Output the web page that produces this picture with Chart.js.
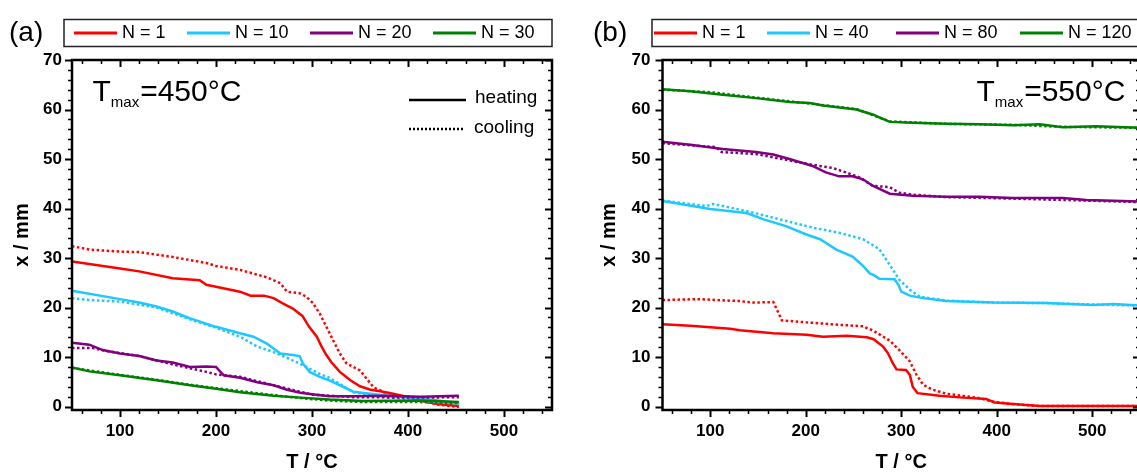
<!DOCTYPE html>
<html>
<head>
<meta charset="utf-8">
<script src="https://cdn.jsdelivr.net/npm/chart.js@4.4.1/dist/chart.umd.min.js"></script>
<style>
html, body { margin: 0; padding: 0; background: #fff; overflow: hidden; width: 1137px; height: 474px; }
canvas { position: absolute; top: 0; }
#chartA { left: 0; }
#chartB { left: 580px; }
</style>
</head>
<body>
<canvas id="chartA" width="568" height="474"></canvas>
<canvas id="chartB" width="580" height="474"></canvas>
<script>
// Axis ticks shared by both panels
var xTicks = [100, 200, 300, 400, 500];
var yTicks = [0, 10, 20, 30, 40, 50, 60, 70];

// Panel (a): Tmax = 450 °C
var labelsA = ['N = 1', 'N = 10', 'N = 20', 'N = 30'];

var tA1h = [50, 100, 120, 155, 183, 190, 200, 225, 236, 250, 260, 269, 280, 290, 297, 305, 310, 315, 320, 329, 340, 350, 361, 371, 382, 396, 413, 431, 453];
var xA1h = [29.3, 27.9, 27.3, 25.9, 25.5, 24.6, 24.2, 23.2, 22.4, 22.4, 21.9, 20.9, 19.8, 18.3, 16.1, 14.1, 12.1, 10.4, 9.0, 7.0, 5.3, 4.1, 3.4, 3.1, 2.7, 2.1, 1.2, 0.5, 0.1];
var tA1c = [50, 68, 100, 120, 155, 190, 200, 225, 253, 267, 274, 287, 294, 301, 308, 315, 322, 329, 336, 343, 350, 357, 364, 375, 396, 413, 431, 453];
var xA1c = [32.4, 31.7, 31.3, 31.2, 30.2, 29.0, 28.4, 27.6, 26.1, 24.9, 23.2, 22.9, 22.2, 20.9, 18.8, 16.1, 13.4, 10.7, 8.7, 8.0, 7.3, 5.6, 3.9, 2.9, 2.1, 1.2, 0.4, -0.1];

var tA10h = [50, 100, 120, 138, 155, 173, 200, 225, 239, 253, 260, 267, 280, 287, 290.5, 297.5, 308, 318, 329, 343, 361, 378, 413, 453];
var xA10h = [23.4, 21.7, 21.0, 20.2, 19.2, 17.8, 16.1, 14.8, 14.1, 12.7, 11.7, 10.7, 10.4, 10.2, 8.7, 7.0, 6.0, 5.3, 4.3, 3.0, 2.6, 2.2, 1.6, 0.7];
var tA10c = [50, 68, 100, 138, 173, 200, 225, 243, 260, 272, 287, 297, 308, 318, 326, 343, 378, 413, 453];
var xA10c = [21.9, 21.5, 21.2, 20.0, 17.6, 15.9, 14.1, 12.1, 11.0, 10.0, 8.7, 7.7, 6.6, 5.8, 4.9, 2.9, 1.9, 1.2, 0.5];

var tA20h = [50, 68, 82, 100, 120, 138, 155, 173, 190, 200, 208, 225, 243, 260, 274, 288, 300, 318, 343, 378, 413, 453];
var xA20h = [12.9, 12.5, 11.4, 10.7, 10.2, 9.3, 8.9, 8.0, 8.1, 8.0, 6.3, 5.8, 4.9, 4.3, 3.4, 2.8, 2.5, 2.1, 2.1, 2.2, 2.0, 2.2];
var tA20c = [50, 72, 86, 120, 155, 190, 200, 225, 260, 300, 343, 413, 453];
var xA20c = [11.8, 11.8, 11.2, 10.2, 8.5, 7.0, 6.5, 6.0, 4.3, 2.4, 1.9, 1.8, 1.9];

var tA30h = [50, 68, 100, 138, 173, 200, 225, 260, 288, 318, 353, 413, 453];
var xA30h = [7.9, 7.1, 6.3, 5.3, 4.3, 3.6, 2.9, 2.2, 1.8, 1.4, 1.1, 1.2, 0.9];
var tA30c = [50, 100, 138, 173, 200, 260, 288, 318, 353, 413, 453];
var xA30c = [7.8, 6.4, 5.4, 4.4, 3.7, 2.3, 1.7, 1.2, 0.9, 0.9, 0.7];

// Panel (b): Tmax = 550 °C
var labelsB = ['N = 1', 'N = 40', 'N = 80', 'N = 120'];

var tB1h = [50, 79, 121, 131, 166, 201, 218, 243, 264, 271, 281, 286, 291, 295, 305, 309, 312, 317, 340, 365, 389, 398, 417, 445, 550];
var xB1h = [16.6, 16.3, 15.7, 15.4, 14.8, 14.5, 14.1, 14.3, 14.0, 13.6, 12.1, 10.8, 8.8, 7.5, 7.4, 6.4, 4.0, 2.7, 2.2, 1.8, 1.5, 0.8, 0.5, 0.1, 0.1];
var tB1c = [50, 86, 131, 145, 166, 170, 175, 201, 236, 260, 271, 288, 298, 309, 316, 323, 333, 347, 382, 398, 417, 445, 550];
var xB1c = [21.5, 21.7, 21.3, 21.0, 21.1, 19.5, 17.4, 17.0, 16.5, 16.2, 15.3, 13.3, 11.4, 9.1, 6.4, 4.4, 3.4, 2.6, 1.7, 0.9, 0.5, 0.1, 0.1];

var tB40h = [50, 100, 138, 156, 180, 200, 215, 232, 249, 253, 260, 267, 271, 277, 293, 297, 300, 309, 323, 347, 396, 452, 501, 522, 550];
var xB40h = [41.5, 39.9, 39.1, 37.8, 36.4, 34.8, 33.8, 31.7, 30.3, 29.6, 28.4, 26.9, 26.6, 25.8, 25.7, 24.6, 23.2, 22.4, 21.9, 21.3, 21.0, 20.9, 20.5, 20.7, 20.4];
var tB40c = [50, 96, 103, 138, 173, 208, 235, 260, 277, 288, 298, 309, 319, 347, 396, 452, 501, 550];
var xB40c = [41.6, 40.5, 40.9, 39.5, 37.8, 36.1, 35.1, 33.8, 31.8, 28.6, 25.6, 23.6, 22.2, 21.4, 21.0, 20.9, 20.6, 20.4];

var tB80h = [50, 79, 113, 148, 166, 183, 207, 221, 235, 249, 260, 270, 288, 312, 347, 382, 417, 469, 494, 550];
var xB80h = [53.5, 52.9, 52.0, 51.4, 50.9, 50.0, 48.6, 47.3, 46.5, 46.5, 45.9, 44.6, 43.0, 42.6, 42.4, 42.4, 42.1, 42.1, 41.7, 41.4];
var tB80c = [50, 106, 112, 148, 183, 214, 228, 242, 256, 270, 288, 298, 312, 347, 417, 494, 550];
var xB80c = [53.2, 52.4, 51.4, 51.0, 49.7, 48.6, 48.2, 47.3, 46.3, 44.6, 44.3, 43.2, 42.8, 42.3, 42.0, 41.6, 41.3];

var tB120h = [50, 79, 113, 148, 183, 204, 218, 253, 270, 277, 288, 312, 347, 382, 417, 445, 469, 504, 550];
var xB120h = [64.1, 63.7, 63.0, 62.3, 61.5, 61.3, 60.8, 60.0, 59.0, 58.4, 57.5, 57.3, 57.1, 57.0, 56.8, 57.0, 56.4, 56.6, 56.3];
var tB120c = [50, 100, 148, 204, 253, 288, 347, 417, 469, 550];
var xB120c = [64.0, 63.5, 62.4, 61.2, 60.1, 57.6, 57.1, 56.9, 56.5, 56.3];

var colors = ['#ff0000', '#1ec8ff', '#800080', '#008000'];

function series(T, x, color, dotted) {
    return {
        data: T.map(function(t, i) { return {x: t, y: x[i]}; }),
        borderColor: color,
        borderWidth: 2.5,
        borderDash: dotted ? [2.5, 2.5] : [],
        borderCapStyle: 'butt',
        pointRadius: 0,
        tension: 0,
        fill: false
    };
}

// Box frame with Origin-style ticks: out on left/bottom, in on top/right
var frameTicks = {
    id: 'frameTicks',
    afterDatasetsDraw: function(chart) {
        var ctx = chart.ctx, a = chart.chartArea;
        var xs = chart.scales.x, ys = chart.scales.y;
        ctx.save();
        ctx.strokeStyle = '#000';
        for (var t = 60; t <= 540; t += 20) {
            var major = t % 100 === 0;
            var len = major ? 7 : 4;
            var px = Math.round(xs.getPixelForValue(t)) + 0.5;
            ctx.lineWidth = major ? 2 : 1.5;
            ctx.beginPath();
            ctx.moveTo(px, a.bottom); ctx.lineTo(px, a.bottom + len);
            ctx.moveTo(px, a.top); ctx.lineTo(px, a.top + len);
            ctx.stroke();
        }
        for (var v = 0; v <= 70; v += 2) {
            var majorY = v % 10 === 0;
            var lenY = majorY ? 7 : 4;
            var py = Math.round(ys.getPixelForValue(v)) + 0.5;
            ctx.lineWidth = majorY ? 2 : 1.5;
            ctx.beginPath();
            ctx.moveTo(a.left, py); ctx.lineTo(a.left - lenY, py);
            ctx.moveTo(a.right, py); ctx.lineTo(a.right - lenY, py);
            ctx.stroke();
        }
        ctx.lineWidth = 2.5;
        ctx.strokeRect(a.left, a.top, a.right - a.left, a.bottom - a.top);
        ctx.restore();
    }
};

// Panel label, boxed series legend, Tmax note and heating/cooling key
var panelDecor = {
    id: 'panelDecor',
    afterDraw: function(chart) {
        var o = chart.options.plugins.panelDecor;
        var ctx = chart.ctx;
        ctx.save();
        ctx.fillStyle = '#000';
        ctx.textBaseline = 'middle';
        ctx.font = '28px "Liberation Sans", Arial, sans-serif';
        ctx.fillText(o.label, o.labelX, 33);

        ctx.strokeStyle = '#222';
        ctx.lineWidth = 1.5;
        ctx.strokeRect(o.boxX, 19.5, o.boxW, 27);
        ctx.font = '18px "Liberation Sans", Arial, sans-serif';
        o.items.forEach(function(x0, i) {
            ctx.strokeStyle = colors[i];
            ctx.lineWidth = 3;
            ctx.beginPath();
            ctx.moveTo(x0, 33); ctx.lineTo(x0 + 43, 33);
            ctx.stroke();
            ctx.fillText(o.names[i], x0 + 48, 33);
        });

        // Tmax=...°C with subscript
        ctx.textBaseline = 'alphabetic';
        var x = o.tmaxX;
        ctx.font = '30px "Liberation Sans", Arial, sans-serif';
        ctx.fillText('T', x, 101);
        x += ctx.measureText('T').width;
        ctx.font = '15px "Liberation Sans", Arial, sans-serif';
        ctx.fillText('max', x, 106.5);
        x += ctx.measureText('max').width + 1;
        ctx.font = '30px "Liberation Sans", Arial, sans-serif';
        ctx.fillText('=' + o.tmax + '°C', x, 101);

        if (o.key) {
            ctx.strokeStyle = '#000';
            ctx.lineWidth = 2.5;
            ctx.beginPath();
            ctx.moveTo(409, 100); ctx.lineTo(466, 100);
            ctx.stroke();
            ctx.setLineDash([2, 2]);
            ctx.beginPath();
            ctx.moveTo(409, 129); ctx.lineTo(465, 129);
            ctx.stroke();
            ctx.setLineDash([]);
            ctx.font = '19px "Liberation Sans", Arial, sans-serif';
            ctx.fillText('heating', 475, 103);
            ctx.fillText('cooling', 474, 132.5);
        }
        ctx.restore();
    }
};

function makeChart(id, datasets, yWidth, yPad, yTitlePad, rightPad, decor) {
    var tickFont = {family: '"Liberation Sans", Arial, sans-serif', size: 17, weight: 'bold'};
    var titleFont = {family: '"Liberation Sans", Arial, sans-serif', size: 20, weight: 'bold'};
    return new Chart(document.getElementById(id), {
        type: 'line',
        data: {datasets: datasets},
        options: {
            responsive: false,
            animation: false,
            devicePixelRatio: 1,
            layout: {padding: {left: 0, right: rightPad, top: 60, bottom: 0}},
            plugins: {
                legend: {display: false},
                tooltip: {enabled: false},
                panelDecor: decor
            },
            scales: {
                x: {
                    type: 'linear',
                    min: 50,
                    max: 550,
                    grid: {display: false, drawTicks: false},
                    border: {display: false},
                    afterBuildTicks: function(scale) {
                        scale.ticks = xTicks.map(function(v) { return {value: v}; });
                    },
                    afterFit: function(scale) { scale.height = 64; },
                    ticks: {color: '#000', font: tickFont, padding: 11, maxRotation: 0},
                    title: {display: true, text: 'T / °C', color: '#000', font: titleFont, padding: {top: 0, bottom: 0}}
                },
                y: {
                    min: -0.7,
                    max: 70,
                    grid: {display: false, drawTicks: false},
                    border: {display: false},
                    afterBuildTicks: function(scale) {
                        scale.ticks = yTicks.map(function(v) { return {value: v}; });
                    },
                    afterFit: function(scale) { scale.width = yWidth; },
                    ticks: {color: '#000', font: tickFont, padding: yPad},
                    title: {display: true, text: 'x / mm', color: '#000', font: titleFont, padding: {top: yTitlePad, bottom: 0}}
                }
            }
        },
        plugins: [frameTicks, panelDecor]
    });
}

var dataA = [
    series(tA30c, xA30c, colors[3], true), series(tA30h, xA30h, colors[3], false),
    series(tA20c, xA20c, colors[2], true), series(tA20h, xA20h, colors[2], false),
    series(tA10c, xA10c, colors[1], true), series(tA10h, xA10h, colors[1], false),
    series(tA1c, xA1c, colors[0], true), series(tA1h, xA1h, colors[0], false)
];
var dataB = [
    series(tB120c, xB120c, colors[3], true), series(tB120h, xB120h, colors[3], false),
    series(tB80c, xB80c, colors[2], true), series(tB80h, xB80h, colors[2], false),
    series(tB40c, xB40c, colors[1], true), series(tB40h, xB40h, colors[1], false),
    series(tB1c, xB1c, colors[0], true), series(tB1h, xB1h, colors[0], false)
];

makeChart('chartA', dataA, 72, 10, 10, 16, {
    label: '(a)', labelX: 9, boxX: 64, boxW: 488,
    items: [74, 187, 310, 433], names: labelsA,
    tmaxX: 92.5, tmax: '450', key: true
});
makeChart('chartB', dataB, 82.5, 12, 17, 20, {
    label: '(b)', labelX: 13, boxX: 72, boxW: 540,
    items: [74, 187, 316, 440], names: labelsB,
    tmaxX: 396.5, tmax: '550', key: false
});
</script>
</body>
</html>
